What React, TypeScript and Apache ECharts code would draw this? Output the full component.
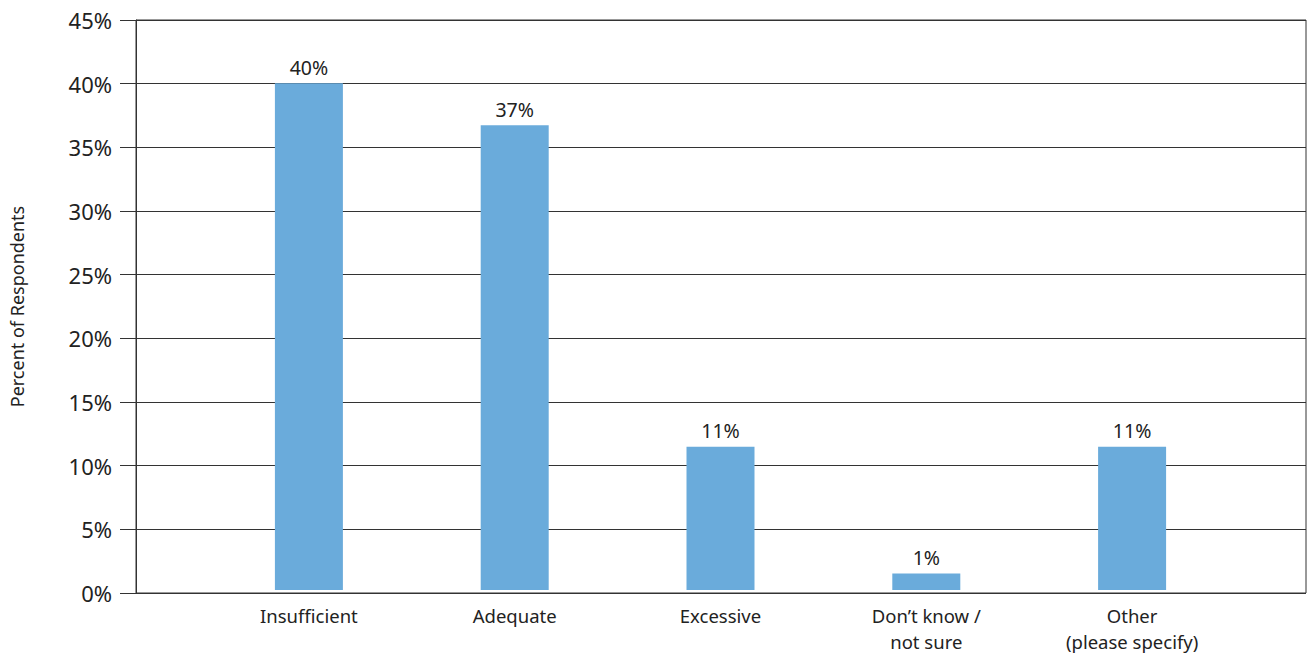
import React, { useEffect, useRef } from "react";
import * as echarts from "echarts";

const categories = ["Insufficient", "Adequate", "Excessive", "Don’t know /\nnot sure", "Other\n(please specify)"];
const values = [40, 36.7, 11.3, 1.3, 11.3];
const valueLabels = ["40%", "37%", "11%", "1%", "11%"];
const yTicks = [0, 5, 10, 15, 20, 25, 30, 35, 40, 45];

const FONT = "Noto Sans";

export default function App() {
  const ref = useRef<HTMLDivElement>(null);
  useEffect(() => {
    if (!ref.current) return;
    const chart = echarts.init(ref.current, null, { renderer: "svg" });
    const top = 20;
    const bottom = 61;
    chart.setOption({
      animation: false,
      backgroundColor: "#ffffff",
      grid: [
        { left: 134, right: 2, top, bottom, show: true, borderColor: "#333333", borderWidth: 1, backgroundColor: "transparent" },
        { left: 206, right: 73, top, bottom },
      ],
      xAxis: [
        { gridIndex: 0, type: "value", min: 0, max: 1, show: false },
        {
          gridIndex: 1,
          type: "category",
          data: categories,
          axisLine: { show: false },
          axisTick: { show: false },
          splitLine: { show: false },
          axisLabel: { color: "#222222", fontFamily: FONT, fontSize: 18.5, lineHeight: 26, margin: 12, interval: 0 },
        },
      ],
      yAxis: [
        {
          gridIndex: 0,
          type: "value",
          min: 0,
          max: yTicks[yTicks.length - 1],
          interval: 5,
          name: "Percent of Respondents",
          nameLocation: "middle",
          nameRotate: 90,
          nameGap: 110,
          nameTextStyle: { color: "#222222", fontFamily: FONT, fontSize: 18 },
          axisLine: { show: true, lineStyle: { color: "#333333", width: 1 } },
          axisTick: { show: true, inside: false, length: 16, lineStyle: { color: "#333333", width: 1 } },
          splitLine: { show: true, lineStyle: { color: "#333333", width: 1 } },
          axisLabel: { color: "#222222", fontFamily: FONT, fontSize: 22, margin: 24, formatter: (v: number) => v + "%" },
        },
        { gridIndex: 1, type: "value", min: 0, max: yTicks[yTicks.length - 1], show: false },
      ],
      series: [
        {
          type: "bar",
          xAxisIndex: 1,
          yAxisIndex: 1,
          data: values,
          barWidth: 68,
          z: 10,
          itemStyle: { color: "#6aabdb", borderWidth: 0, borderColor: "#6aabdb" },
          label: {
            show: true,
            position: "top",
            distance: 6,
            color: "#222222",
            fontFamily: FONT,
            fontSize: 19.5,
            formatter: (p: any) => valueLabels[p.dataIndex],
          },
        },
      ],
    });
    return () => chart.dispose();
  }, []);
  return <div ref={ref} style={{ position: "absolute", left: 0, top: 0, width: 1308, height: 654 }} />;
}
